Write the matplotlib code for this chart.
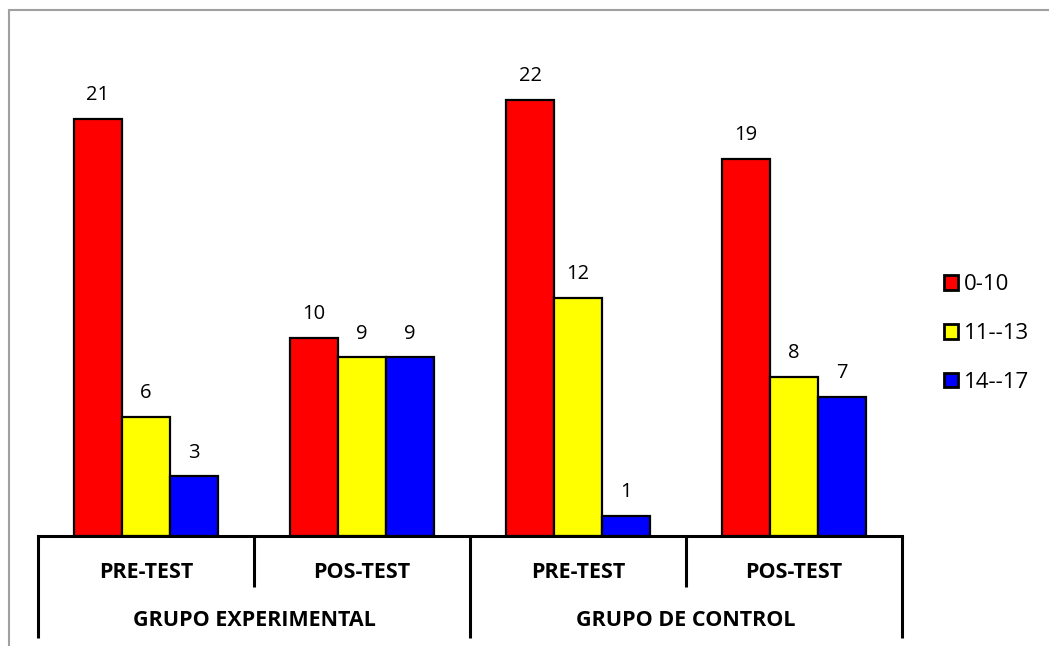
import matplotlib
matplotlib.use("Agg")
import matplotlib.pyplot as plt
import matplotlib.transforms as mtransforms
from matplotlib.patches import Patch, Rectangle

plt.rcParams['font.family'] = ['Open Sans', 'DejaVu Sans']

tests = ["PRE-TEST", "POS-TEST", "PRE-TEST", "POS-TEST"]
groups = ["GRUPO EXPERIMENTAL", "GRUPO DE CONTROL"]
series_names = ["0-10", "11--13", "14--17"]
series_colors = ["#ff0000", "#ffff00", "#0000ff"]
vals_0_10 = [21, 10, 22, 19]
vals_11_13 = [6, 9, 12, 8]
vals_14_17 = [3, 9, 1, 7]
series = [vals_0_10, vals_11_13, vals_14_17]

W, H = 1049, 646
fig = plt.figure(figsize=(W / 100, H / 100), dpi=100)
ax = fig.add_axes([38 / W, 1 - 536 / H, (902 - 38) / W, (536 - 40) / H])

# outer chart border (cropped on right/bottom)
fig.patches.append(Rectangle((9 / W, -0.1), 1.2, 1 - 10 / H + 0.1,
                             transform=fig.transFigure, fill=False,
                             edgecolor="#a0a0a0", linewidth=1.5))

bw = 1 / 4.5
x = list(range(len(tests)))
for k, (vals, col) in enumerate(zip(series, series_colors)):
    xs = [i + (k - 1) * bw for i in x]
    bars = ax.bar(xs, vals, width=bw, color=col, edgecolor="black",
                  linewidth=1.6, label=series_names[k], zorder=3)
    for b, v in zip(bars, vals):
        ax.annotate(str(v), (b.get_x() + b.get_width() / 2, v),
                    xytext=(0, 10), textcoords="offset points",
                    ha="center", va="bottom", fontsize=14.5)

ax.set_xlim(-0.5, len(tests) - 0.5)
ax.set_ylim(0, 25)
for s in ["left", "right", "top"]:
    ax.spines[s].set_visible(False)
ax.spines["bottom"].set_linewidth(2.2)
ax.spines["bottom"].set_zorder(4)
ax.set_xticks([])
ax.set_yticks([])

# multi-level category axis
trans = mtransforms.blended_transform_factory(ax.transData, ax.transAxes)
short_y = -51 / 496
long_y = -102 / 496
for i in range(len(tests) + 1):
    xp = i - 0.5
    yb = long_y if i % 2 == 0 else short_y
    ax.plot([xp, xp], [0, yb], color="black", lw=2.2, transform=trans,
            clip_on=False, solid_capstyle="butt")
for i, t in enumerate(tests):
    ax.text(i, -36 / 496, t, transform=trans, ha="center", va="center",
            fontsize=15.5, fontweight="bold")
for g, name in enumerate(groups):
    ax.text(2 * g + 0.5, -85 / 496, name, transform=trans, ha="center",
            va="center", fontsize=15.5, fontweight="bold")

handles = [Patch(facecolor=c, edgecolor="black", linewidth=2.0) for c in series_colors]
fig.legend(handles, series_names, loc="center left",
           bbox_to_anchor=(924 / W, 1 - 333.5 / H), frameon=False,
           fontsize=16, handlelength=0.65, handleheight=0.65,
           handletextpad=0.25, labelspacing=1.25)

fig.savefig("out.png", dpi=100)
